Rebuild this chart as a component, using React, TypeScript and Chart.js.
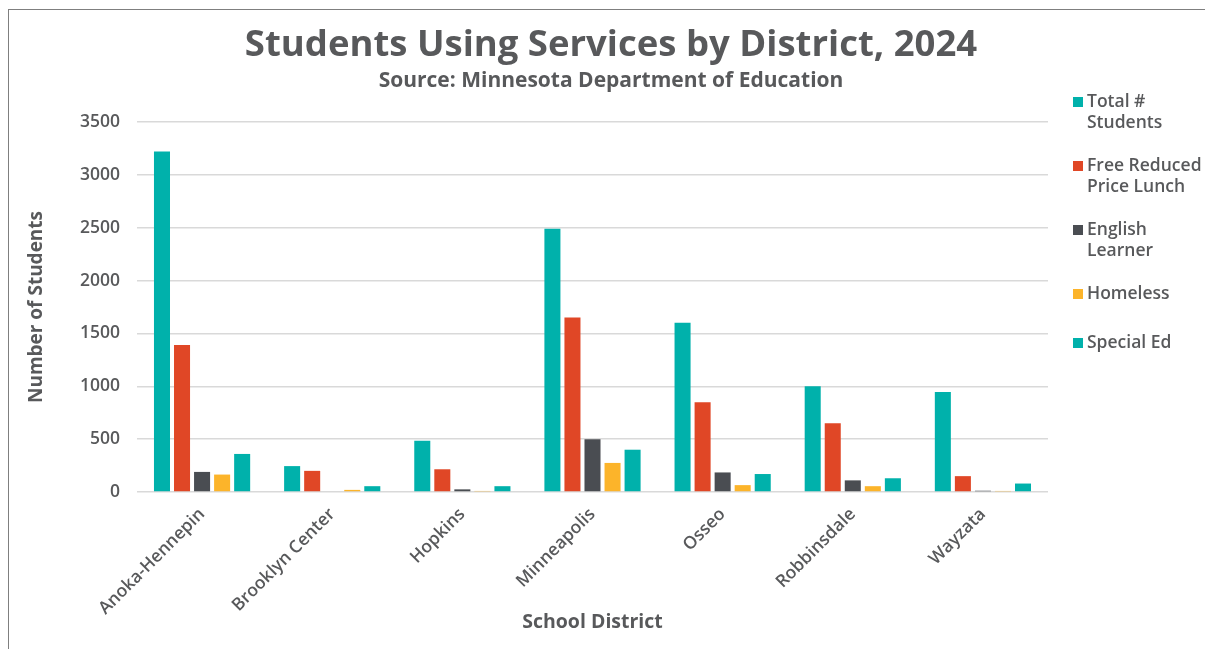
import React, { useEffect, useRef } from "react";
import { Chart, registerables } from "chart.js";

Chart.register(...registerables);

const districts = ["Anoka-Hennepin", "Brooklyn Center", "Hopkins", "Minneapolis", "Osseo", "Robbinsdale", "Wayzata"];
const totalStudents = [3220, 245, 485, 2490, 1600, 1000, 945];
const freeReducedLunch = [1390, 200, 215, 1650, 850, 650, 150];
const englishLearner = [190, 0, 25, 500, 185, 110, 12];
const homeless = [165, 20, 10, 275, 65, 55, 10];
const specialEd = [360, 55, 55, 400, 170, 130, 80];

const seriesNames = ["Total # Students", "Free Reduced Price Lunch", "English Learner", "Homeless", "Special Ed"];
const legendLines = [["Total #", "Students"], ["Free Reduced", "Price Lunch"], ["English", "Learner"], ["Homeless"], ["Special Ed"]];
const seriesColors = ["#00B1AB", "#E04726", "#4A4D52", "#FCB42A", "#00B1AB"];
const yTicks = [0, 500, 1000, 1500, 2000, 2500, 3000, 3500];

const TEXT = "#58595B";
const FONT = '"Open Sans", sans-serif';

const sideLegend = {
  id: "sideLegend",
  afterDraw(chart: any) {
    const ctx = chart.ctx;
    const x0 = chart.chartArea.right + 25;
    ctx.save();
    ctx.font = `600 17.5px ${FONT}`;
    ctx.textBaseline = "middle";
    ctx.textAlign = "left";
    let y = 92;
    chart.data.datasets.forEach((ds: any, i: number) => {
      const lines = legendLines[i];
      ctx.fillStyle = ds.backgroundColor;
      ctx.fillRect(x0, y - 5, 10, 10);
      ctx.fillStyle = TEXT;
      lines.forEach((l: string, j: number) => ctx.fillText(l, x0 + 14, y + j * 21.5));
      y += 34 + 15 * lines.length;
    });
    ctx.restore();
  },
};

export default function App() {
  const ref = useRef<HTMLCanvasElement>(null);
  useEffect(() => {
    document.documentElement.style.overflow = "hidden";
    const values = [totalStudents, freeReducedLunch, englishLearner, homeless, specialEd];
    const chart = new Chart(ref.current!, {
      type: "bar",
      data: {
        labels: districts,
        datasets: values.map((v, i) => ({
          label: seriesNames[i],
          data: v,
          backgroundColor: seriesColors[i],
          categoryPercentage: 0.77,
          barPercentage: 0.8,
        })),
      },
      options: {
        responsive: false,
        animation: false,
        layout: { padding: 0 },
        plugins: {
          legend: { display: false },
          tooltip: { enabled: false },
          title: {
            display: true,
            text: "Students Using Services by District, 2024",
            color: TEXT,
            font: { family: FONT, size: 36.5, weight: "bold", lineHeight: 1.2 },
            padding: { top: 14, bottom: 0 },
          },
          subtitle: {
            display: true,
            text: "Source: Minnesota Department of Education",
            color: TEXT,
            font: { family: FONT, size: 21, weight: "bold", lineHeight: 1.2 },
            padding: { top: 1, bottom: 28 },
          },
        },
        scales: {
          x: {
            grid: { display: false },
            border: { display: false },
            ticks: {
              color: TEXT,
              font: { family: FONT, size: 17.5, weight: "600" },
              minRotation: 45,
              maxRotation: 45,
              padding: 4,
            },
            title: {
              display: true,
              text: "School District",
              color: TEXT,
              font: { family: FONT, size: 19.5, weight: "bold", lineHeight: 1.2 },
              padding: { top: 0, bottom: 15 },
            },
            afterFit: (s: any) => { s.height = 157; },
          },
          y: {
            min: 0,
            max: 3500,
            afterBuildTicks: (s: any) => { s.ticks = yTicks.map((v) => ({ value: v })); },
            grid: { color: "#D9D9D9", lineWidth: 1.5, drawTicks: false },
            border: { display: false },
            ticks: {
              color: TEXT,
              font: { family: FONT, size: 17.5, weight: "600" },
              padding: 17,
              callback: (v: any) => String(v),
            },
            title: {
              display: true,
              text: "Number of Students",
              color: TEXT,
              font: { family: FONT, size: 19, weight: "bold", lineHeight: 1.2 },
              padding: { top: 16, bottom: 0 },
            },
            afterFit: (s: any) => { s.width = 128; },
          },
          legendSpace: {
            position: "right",
            grid: { display: false },
            border: { display: false },
            ticks: { display: false },
            afterFit: (s: any) => { s.width = 165; },
          },
        },
      },
      plugins: [sideLegend],
    });
    return () => chart.destroy();
  }, []);

  return (
    <div
      style={{
        position: "relative",
        top: 1,
        width: 1205,
        height: 640,
        borderLeft: "1px solid #7F7F7F",
        borderTop: "1px solid #7F7F7F",
        overflow: "hidden",
        background: "#fff",
      }}
    >
      <canvas ref={ref} width={1204} height={639} style={{ display: "block", width: 1204, height: 639 }} />
    </div>
  );
}
